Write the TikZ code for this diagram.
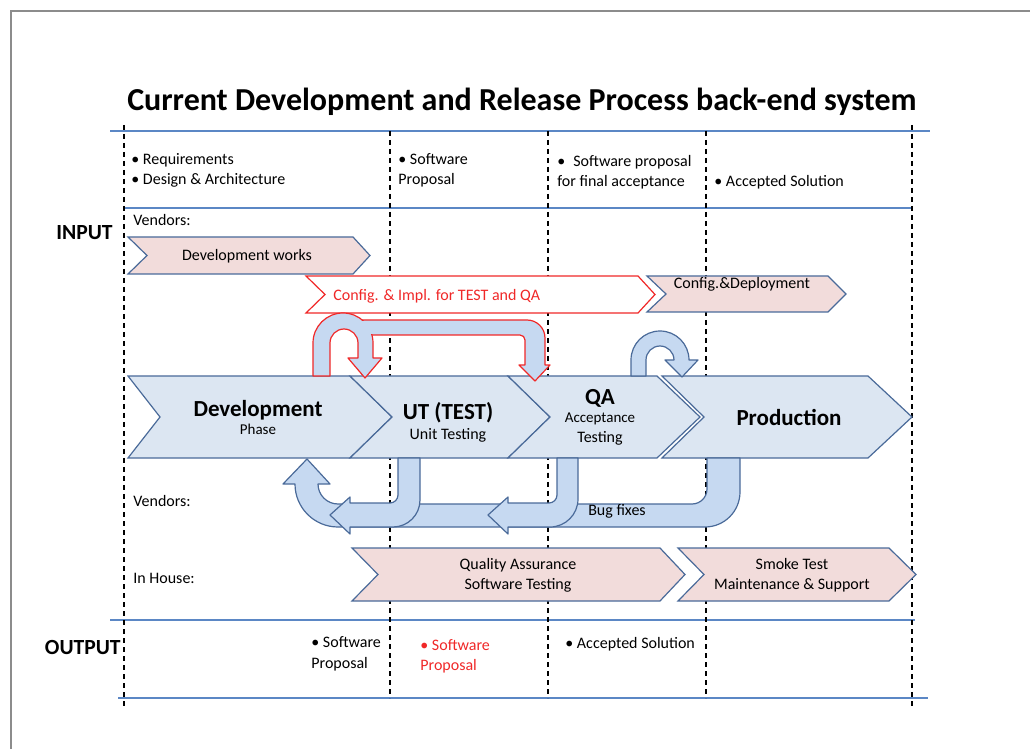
\documentclass[tikz,border=0pt]{standalone}
\usepackage{fontspec}
\setmainfont{Carlito}
\definecolor{laneblue}{HTML}{5B87C5}
\definecolor{chevline}{HTML}{4A6A99}
\definecolor{chevfill}{HTML}{DCE6F2}
\definecolor{arrowfill}{HTML}{C6D9F1}
\definecolor{pinkfill}{HTML}{F2DCDB}
\definecolor{redline}{HTML}{F02828}
% left, notch, head start, tip, top, bottom
\newcommand{\chevron}[6]{(#1,#5) -- (#3,#5) -- (#4,{(#5+#6)/2}) -- (#3,#6) -- (#1,#6) -- (#2,{(#5+#6)/2}) -- cycle}
\tikzset{
  lane/.style={laneblue, line width=1pt},
  divider/.style={dash pattern=on 2.5pt off 2pt, line width=0.7pt},
  phase/.style={draw=chevline, fill=chevfill, line width=0.6pt},
  vendor/.style={draw=chevline, fill=pinkfill, line width=0.6pt},
  config/.style={draw=redline, fill=white, line width=0.6pt},
  uturn/.style={draw=chevline, fill=arrowfill, line width=0.6pt, line join=round},
  reduturn/.style={uturn, draw=redline},
  txt/.style={font=\fontsize{8}{10}\selectfont, inner sep=0pt, anchor=base west, align=left},
  ctxt/.style={font=\fontsize{8}{10}\selectfont, inner sep=0pt, anchor=base, align=center},
  head/.style={font=\fontsize{11.5}{13}\selectfont\bfseries, inner sep=0pt, anchor=base},
  sub/.style={font=\fontsize{7.5}{10}\selectfont, inner sep=0pt, anchor=base, align=center},
  side/.style={font=\fontsize{10.8}{12}\selectfont\bfseries, inner sep=0pt, anchor=base east}
}
\begin{document}
\begin{tikzpicture}[x=0.5pt, y=-0.5pt]
\useasboundingbox (0,0) rectangle (1030,749);
\draw [gray!90, line width=1pt] (11,749) -- (11,11) -- (1030,11);

\node [font=\fontsize{16}{18}\selectfont\bfseries, inner sep=0pt, anchor=base] (title) at (522,111)
  {Current Development and Release Process back-end system};

% lanes and columns
\draw [lane] (110,131) -- (930,131);
\draw [lane] (124,208) -- (912,208);
\draw [lane] (110,620) -- (915,620);
\draw [lane] (118,698) -- (928,698);
\draw [divider] (124,125) -- (124,708);
\foreach \cx in {390,548,706}
  \draw [divider] (\cx,131) -- (\cx,698);
\draw [divider] (912,125) -- (912,708);

\node [side] (input) at (113,240) {INPUT};
\node [side] (output) at (121,654) {OUTPUT};

\node [txt] (in1) at (131,185) {• Requirements\\• Design \& Architecture};
\node [txt] (in2) at (398,185) {• Software\\Proposal};
\node [txt] (in3) at (557,187) {•\enspace Software proposal\\for final acceptance};
\node [txt] (in4) at (714,187) {• Accepted Solution};
\node [txt] (vend1) at (133,226) {Vendors:};

% vendor works
\draw [vendor] \chevron{128}{147}{353}{370}{237}{274};
\node [ctxt] (devworks) at (247,261) {Development works};
\draw [config] \chevron{306}{325}{638}{655}{276}{313};
\node [txt, text=redline] (cfgtest) at (333,300) {Config. \& Impl. for TEST and QA};
\draw [vendor] \chevron{647}{666}{828}{846}{276}{312};
\node [ctxt] (cfgdeploy) at (742,289) {Config.\&Deployment};

% phases
\draw [phase] \chevron{128}{160}{350}{392}{376}{458};
\draw [phase] \chevron{350}{392}{508}{550}{376}{458};
\draw [phase] \chevron{508}{550}{657}{700}{376}{458};
\draw [phase] \chevron{662}{704}{868}{912}{376}{458};
\node [head] (devtitle) at (258,416) {Development};
\node [sub] (devsub) at (258,435) {Phase};
\node [head] (uttitle) at (448,419) {UT (TEST)};
\node [ctxt] (utsub) at (448,439) {Unit Testing};
\node [head] (qatitle) at (600,405) {QA};
\node [sub] (qasub) at (600,443) {Acceptance\\\fontsize{8}{10}\selectfont Testing};
\node [head] (prodtitle) at (789,425) {Production};

% loops above
\draw [reduturn] (360,320) -- (527,320) arc (270:360:18) -- (545,365) -- (550,365) -- (535,381)
  -- (519,365) -- (525,365) -- (525,340) arc (0:-90:5) -- (360,335) -- cycle;
\draw [reduturn] (313,376) -- (313,343) arc (180:360:30) -- (373,358) -- (382,358) -- (365,378)
  -- (348,358) -- (358,358) -- (358,343) arc (0:-180:14) -- (330,376) -- cycle;
\fill [arrowfill] (360,321.5) rectangle (374.5,334);
\draw [uturn] (631,376) -- (631,360) arc (180:360:29) -- (698,360) -- (682,377)
  -- (665,360) -- (674,360) arc (0:-180:14) -- (646,376) -- cycle;

% bug fix loops
\draw [uturn] (707,458) -- (707,489) arc (0:90:15) -- (338,504) arc (90:180:20) -- (330,484)
  -- (307,459) -- (283,484) -- (295,484) arc (180:90:43) -- (705,527) arc (90:0:35) -- (740,458) -- cycle;
\draw [uturn] (557,458) -- (557,495) arc (0:90:8) -- (508,503) -- (508,497) -- (488,515)
  -- (508,534) -- (508,527) -- (550,527) arc (90:0:28) -- (578,458) -- cycle;
\draw [uturn] (398,458) -- (398,495) arc (0:90:8) -- (350,503) -- (350,497) -- (330,515)
  -- (350,534) -- (350,527) -- (393,527) arc (90:0:27) -- (420,458) -- cycle;
\node [ctxt] (bugfix) at (617,516) {Bug fixes};

\node [txt] (vend2) at (133,506) {Vendors:};
\node [txt] (inhouse) at (133,583) {In House:};

% in house
\draw [vendor] \chevron{352}{378}{660}{685}{548}{601};
\node [ctxt] (qatest) at (518,589) {Quality Assurance\\Software Testing};
\draw [vendor] \chevron{678}{704}{889}{916}{548}{601};
\node [ctxt] (smoke) at (792,589) {Smoke Test\\Maintenance \& Support};

% output
\node [txt] (out1) at (311,668) {• Software\\Proposal};
\node [txt, text=redline] (out2) at (420,670) {• Software\\Proposal};
\node [txt] (out3) at (565,648) {• Accepted Solution};
\end{tikzpicture}
\end{document}
